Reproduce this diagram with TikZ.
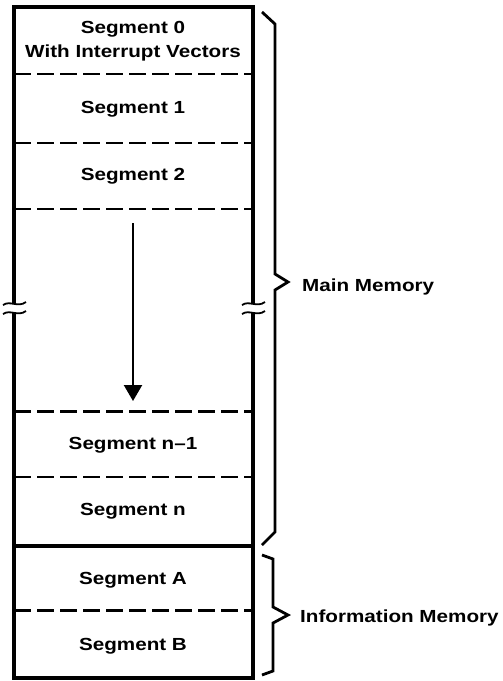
\documentclass[tikz,border=0pt]{standalone}
\usepackage{fontspec}
\setmainfont{Liberation Sans}
\usetikzlibrary{arrows.meta}
\newcommand\seglbl[1]{\scalebox{1.18}[1]{#1}}
\tikzset{
  frame/.style={line width=3.4pt},
  thindiv/.style={line width=1.3pt, dash pattern=on 17pt off 6pt},
  thickdiv/.style={line width=3pt, dash pattern=on 17pt off 6pt},
  solidiv/.style={line width=3.8pt},
  brk/.style={line width=1.8pt},
  brace/.style={line width=2.8pt, line join=miter},
  seglabel/.style={font=\bfseries\fontsize{17.5}{21}\selectfont, inner sep=0pt, anchor=base},
  sidelabel/.style={font=\bfseries\fontsize{17.5}{21}\selectfont, inner sep=0pt, anchor=base west},
  flow/.style={line width=2.2pt, -{Triangle[width=18pt,length=16pt]}}
}
\begin{document}
\begin{tikzpicture}[x=1pt, y=-1pt]
  \useasboundingbox (0,0) rectangle (503,681);

  % outer frame, broken at the cut
  \draw[frame] (14,303) -- (14,7) -- (253,7) -- (253,303);
  \draw[frame] (14,313) -- (14,678) -- (253,678) -- (253,313);

  % cut marks on both sides
  \foreach \xc in {14,253} {
    \draw[brk] (\xc-11,305) .. controls (\xc-4,300) and (\xc+4,308) .. (\xc+12,302);
    \draw[brk] (\xc-11,314) .. controls (\xc-4,309) and (\xc+4,317) .. (\xc+12,311);
  }

  % segment boundaries
  \draw[thindiv] (14,74) -- (253,74);
  \draw[thindiv] (14,143) -- (253,143);
  \draw[thindiv] (14,209) -- (253,209);
  \draw[thickdiv] (14,411) -- (253,411);
  \draw[thindiv] (14,477) -- (253,477);
  \draw[solidiv] (14,546) -- (253,546);
  \draw[thickdiv] (14,610) -- (253,610);

  % segment names
  \node[seglabel] (seg0) at (133,33) {\seglbl{Segment 0}};
  \node[seglabel] (seg0b) at (133,57) {\seglbl{With Interrupt Vectors}};
  \node[seglabel] (seg1) at (133,113) {\seglbl{Segment 1}};
  \node[seglabel] (seg2) at (133,180) {\seglbl{Segment 2}};
  \node[seglabel] (segn1) at (133,449) {\seglbl{Segment n–1}};
  \node[seglabel] (segn) at (133,515) {\seglbl{Segment n}};
  \node[seglabel] (segA) at (133,584) {\seglbl{Segment A}};
  \node[seglabel] (segB) at (133,650) {\seglbl{Segment B}};

  % direction of the segment sequence
  \coordinate (flowtop) at (133,223);
  \coordinate (flowend) at (133,401);
  \draw[flow] (flowtop) -- (flowend);

  % brace for main memory
  \draw[brace] (262,12) -- (275,24) -- (275,274) -- (288,282) -- (275,290)
               -- (275,532) -- (262,545);
  \node[sidelabel] (mainmem) at (302,291) {\seglbl{Main Memory}};

  % brace for information memory
  \draw[brace] (262,555) -- (273,559) -- (273,607) -- (288,615) -- (273,623)
               -- (273,671) -- (262,675);
  \node[sidelabel] (infomem) at (300,622) {\seglbl{Information Memory}};
\end{tikzpicture}
\end{document}
